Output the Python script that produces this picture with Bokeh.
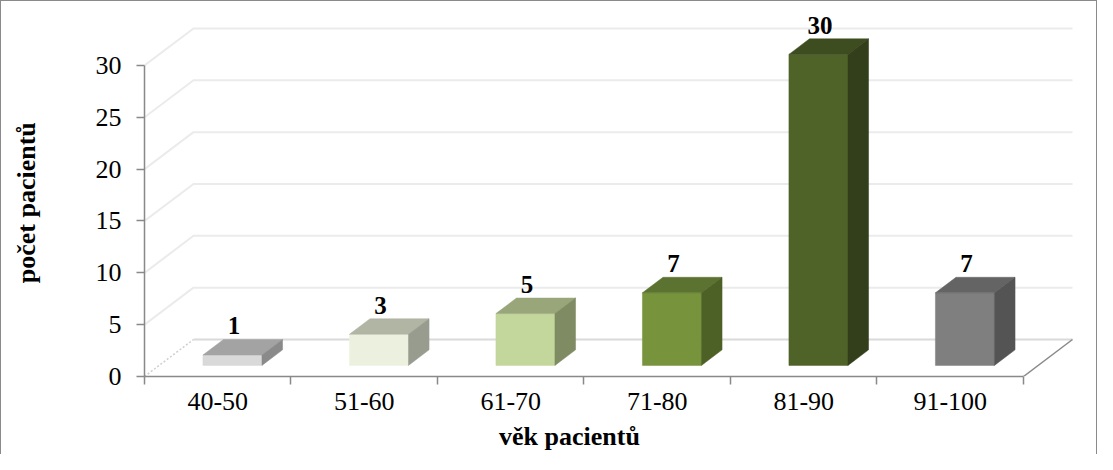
from bokeh.plotting import figure
from bokeh.models import Range1d, FixedTicker
from bokeh.core.properties import value
from bokeh.embed import file_html
from bokeh.resources import INLINE

# ---- data ----
categories = ["40-50", "51-60", "61-70", "71-80", "81-90", "91-100"]
counts = [1, 3, 5, 7, 30, 7]
y_ticks = [0, 5, 10, 15, 20, 25, 30]
front_colors = ["#d9d9d9", "#ebf1de", "#c3d69b", "#77933c", "#4f6228", "#7f7f7f"]
top_colors = ["#a3a3a3", "#b0b5a4", "#98a679", "#5b7230", "#3e4d20", "#646464"]
side_colors = ["#8a8a8a", "#989c8f", "#7f8b62", "#4d6127", "#333f1a", "#545454"]
x_title = "věk pacientů"
y_title = "počet pacientů"

# ---- 3D projection parameters (category / value units) ----
DX = 0.3345      # full depth offset in x
DY = 3.57        # full depth offset in y
F1, F2 = 0.30, 0.72  # bar front / back depth fractions
W = 0.403        # bar width
n = len(categories)
ymax = max(y_ticks)

FONT = "Liberation Serif"
AXIS_C = "#898989"
NBSP = "\u00a0"

p = figure(width=1097, height=454, output_backend="svg", toolbar_location=None,
           x_range=Range1d(0, 6.512), y_range=Range1d(0, 35.4),
           min_border_left=143, min_border_right=0, min_border_top=8, min_border_bottom=79)
p.styles = {"border-left": "1px solid #8a8a8a", "border-top": "1px solid #8a8a8a",
            "border-right": "1px solid #8a8a8a"}
p.outline_line_color = None
p.xgrid.visible = False
p.ygrid.visible = False
p.background_fill_color = "white"

# ---- walls: gridlines on side + back wall ----
gxs, gys = [], []
for t in y_ticks[1:]:
    gxs.append([0, DX, n + DX])
    gys.append([t, t + DY, t + DY])
p.multi_line(gxs, gys, line_color="#ebebeb", line_width=2)
# floor edges
p.line([0, DX], [0, DY], line_color="#cfcfcf", line_width=1.5, line_dash="2 2")
p.line([DX, n + DX], [DY, DY], line_color="#dadada", line_width=2)
p.line([n, n + DX], [0, DY], line_color=AXIS_C, line_width=1.5)

# ---- 3D bars ----
fx, fy, tx, ty, sx, sy = [], [], [], [], [], []
lx, ly = [], []
d = F2 - F1
y0 = F1 * DY
for i, v in enumerate(counts):
    x0 = i + 0.5 - W / 2 + F1 * DX
    x1 = x0 + W
    top = y0 + v
    fx.append([x0, x1, x1, x0]); fy.append([y0, y0, top, top])
    tx.append([x0, x1, x1 + d * DX, x0 + d * DX]); ty.append([top, top, top + d * DY, top + d * DY])
    sx.append([x1, x1 + d * DX, x1 + d * DX, x1]); sy.append([y0, y0 + d * DY, top + d * DY, top])
    lx.append((x0 + x1) / 2 + 0.01)
    ly.append(top + d * DY + 0.35)

p.patches(fx, fy, fill_color=front_colors, line_color=front_colors, line_width=0.5)
p.patches(tx, ty, fill_color=top_colors, line_color=top_colors, line_width=0.5)
p.patches(sx, sy, fill_color=side_colors, line_color=side_colors, line_width=0.5)

p.text(lx, ly, text=[str(c) for c in counts], text_font=value(FONT), text_font_style="bold",
       text_font_size="25px", text_align="center", text_baseline="alphabetic", text_color="black",
       y_offset=-10)

# ---- axes ----
ya = p.yaxis[0]
ya.ticker = FixedTicker(ticks=y_ticks)
ya.bounds = (0, ymax)
ya.axis_line_color = AXIS_C
ya.axis_line_width = 1.5
ya.major_tick_line_color = AXIS_C
ya.major_tick_line_width = 1.5
ya.major_tick_out = 8
ya.major_tick_in = 0
ya.minor_tick_line_color = None
ya.major_label_standoff = 15
ya.major_label_text_font = FONT
ya.major_label_text_font_size = "26px"
ya.major_label_text_color = "black"
# trailing no-break spaces move the visible title a little lower, like the original
ya.axis_label = y_title + NBSP * 3
ya.axis_label_text_font = FONT
ya.axis_label_text_font_style = "bold"
ya.axis_label_text_font_size = "26px"
ya.axis_label_text_color = "black"
ya.axis_label_standoff = 52

xa = p.xaxis[0]
centers = [i + 0.5 for i in range(n)]
xa.ticker = FixedTicker(ticks=centers, minor_ticks=list(range(n + 1)))
xa.major_label_overrides = {c: lab for c, lab in zip(centers, categories)}
xa.bounds = (0, n)
xa.axis_line_color = AXIS_C
xa.axis_line_width = 1.5
xa.major_tick_line_color = None
xa.major_tick_out = 8
xa.major_tick_in = 0
xa.minor_tick_line_color = AXIS_C
xa.minor_tick_line_width = 1.5
xa.minor_tick_out = 8
xa.minor_tick_in = 0
xa.major_label_standoff = 8
xa.major_label_text_font = FONT
xa.major_label_text_font_size = "26px"
xa.major_label_text_color = "black"
# trailing no-break spaces shift the visible title left of the frame centre, like the original
xa.axis_label = x_title + NBSP * 16
xa.axis_label_text_font = FONT
xa.axis_label_text_font_style = "bold"
xa.axis_label_text_font_size = "26px"
xa.axis_label_text_color = "black"
xa.axis_label_standoff = 9

open("out.html", "w").write(file_html(p, INLINE))
